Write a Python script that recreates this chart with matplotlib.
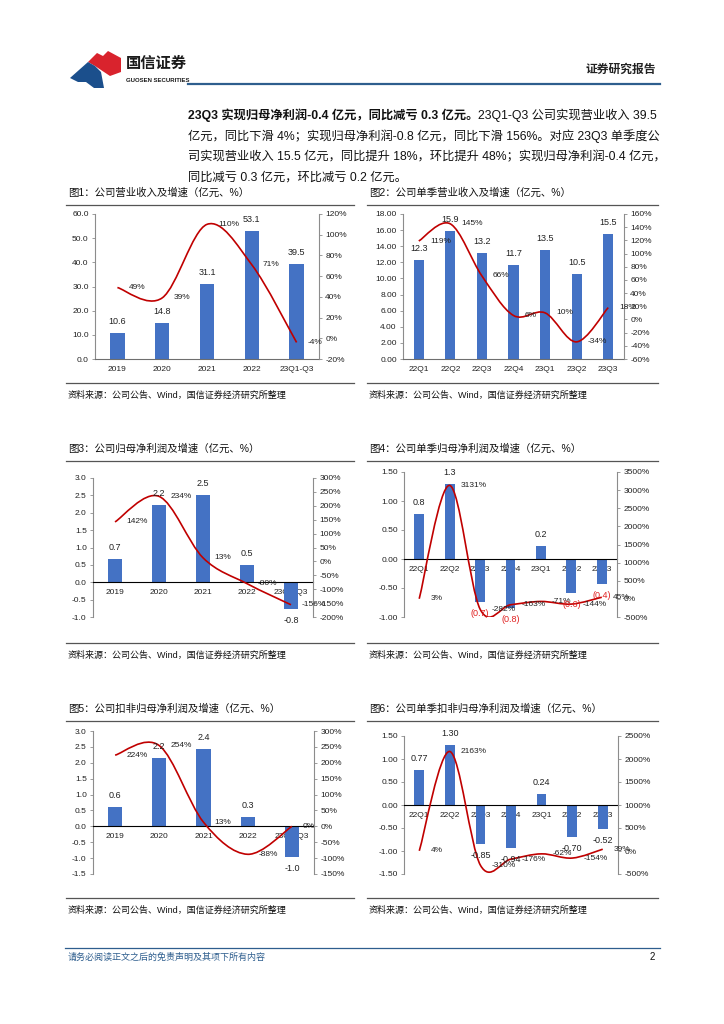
import numpy as np
import matplotlib
matplotlib.use('Agg')
import matplotlib.pyplot as plt
from matplotlib.path import Path
from matplotlib.patches import PathPatch, Polygon
from matplotlib.ticker import FuncFormatter

plt.rcParams['font.family'] = ['Liberation Sans', 'Noto Sans CJK SC', 'DejaVu Sans']
plt.rcParams['axes.unicode_minus'] = False

W, H = 724, 1024

# ---- data ----
years = ['2019', '2020', '2021', '2022', '23Q1-Q3']
quarters = ['22Q1', '22Q2', '22Q3', '22Q4', '23Q1', '23Q2', '23Q3']

rev_year = [10.6, 14.8, 31.1, 53.1, 39.5]
rev_year_g = [49, 39, 110, 71, -4]
rev_q = [12.3, 15.9, 13.2, 11.7, 13.5, 10.5, 15.5]
rev_q_g = [119, 145, 66, 6, 10, -34, 18]
np_year = [0.66, 2.23, 2.52, 0.51, -0.76]
np_year_g = [142, 234, 13, -80, -156]
np_q = [0.77, 1.30, -0.74, -0.85, 0.23, -0.58, -0.43]
np_q_g = [3, 3131, -282, -163, -71, -144, 45]
dnp_year = [0.61, 2.16, 2.44, 0.28, -0.98]
dnp_year_g = [224, 254, 13, -88, 0]
dnp_q = [0.77, 1.30, -0.85, -0.94, 0.24, -0.70, -0.52]
dnp_q_g = [4, 2163, -310, -176, -62, -154, 39]

titles = ['图1：公司营业收入及增速（亿元、%）', '图2：公司单季营业收入及增速（亿元、%）',
          '图3：公司归母净利润及增速（亿元、%）', '图4：公司单季归母净利润及增速（亿元、%）',
          '图5：公司扣非归母净利润及增速（亿元、%）', '图6：公司单季扣非归母净利润及增速（亿元、%）']
source = '资料来源：公司公告、Wind，国信证券经济研究所整理'

BLUE = '#4472C4'
RED = '#C00000'
GRAY = '#8c8c8c'


def px_rect(x0, y0, x1, y1):
    return [x0 / W, 1 - y1 / H, (x1 - x0) / W, (y1 - y0) / H]


def smooth_path(xs, ys):
    # excel style smoothed line (catmull-rom bezier through the points)
    pts = np.column_stack([xs, ys]).astype(float)
    n = len(pts)
    verts = [pts[0]]
    codes = [Path.MOVETO]
    for i in range(n - 1):
        p0 = pts[max(i - 1, 0)]
        p1 = pts[i]
        p2 = pts[i + 1]
        p3 = pts[min(i + 2, n - 1)]
        verts += [p1 + (p2 - p0) / 6, p2 - (p3 - p1) / 6, p2]
        codes += [Path.CURVE4] * 3
    return Path(verts, codes)


fig = plt.figure(figsize=(W / 100, H / 100), dpi=100)

# background layer in pixel coords
bg = fig.add_axes([0, 0, 1, 1])
bg.set_xlim(0, W)
bg.set_ylim(H, 0)
bg.axis('off')

# logo
bg.add_patch(Polygon([(88, 62), (97, 53), (103, 56), (108, 51), (121, 58), (121, 72),
                      (110, 76), (101, 70), (95, 66)], closed=True, color='#D9232D', lw=0))
bg.add_patch(Polygon([(70, 78), (88, 62), (95, 66), (101, 72), (104, 88), (94, 88),
                      (86, 82), (78, 82)], closed=True, color='#1B4F8C', lw=0))
bg.text(126, 64, '国信证券', fontsize=11, fontweight='bold', color='#1a1a1a', va='center')
bg.text(126, 80, 'GUOSEN SECURITIES', fontsize=4.3, fontweight='bold', color='#1a1a1a', va='center')
bg.text(656, 70, '证券研究报告', fontsize=8.5, fontweight='bold', color='#222222', va='center', ha='right')
bg.plot([188, 660], [84, 84], color='#2E5E8E', lw=1.6)

# paragraph
t1 = bg.text(188, 115, '23Q3 实现归母净利润-0.4 亿元，同比减亏 0.3 亿元。', fontsize=8.8,
             fontweight='bold', color='#111111', va='center')
bg.annotate('23Q1-Q3 公司实现营业收入 39.5', xy=(1, 0.5), xycoords=t1, fontsize=8.8,
            color='#111111', va='center')
lines = ['亿元，同比下滑 4%；实现归母净利润-0.8 亿元，同比下滑 156%。对应 23Q3 单季度公',
         '司实现营业收入 15.5 亿元，同比提升 18%，环比提升 48%；实现归母净利润-0.4 亿元，',
         '同比减亏 0.3 亿元，环比减亏 0.2 亿元。']
for i, s in enumerate(lines):
    bg.text(188, 136 + 21 * i, s, fontsize=8.8, color='#111111', va='center')

# titles, rules, sources
col_x = [(68, 354), (369, 658)]
title_y = [193, 449, 709]
src_y = [383, 643, 898]
for r in range(3):
    for c in range(2):
        x0, x1 = col_x[c]
        bg.text(x0, title_y[r], titles[r * 2 + c], fontsize=7.5, color='#111111', va='center')
        bg.plot([x0 - 2, x1], [title_y[r] + 12, title_y[r] + 12], color='#555555', lw=0.9)
        bg.plot([x0 - 2, x1], [src_y[r], src_y[r]], color='#555555', lw=0.9)
        bg.text(x0, src_y[r] + 12, source, fontsize=6.5, color='#111111', va='center')

# footer
bg.plot([65, 660], [948, 948], color='#2E5E8E', lw=0.9)
bg.text(68, 957, '请务必阅读正文之后的免责声明及其项下所有内容', fontsize=6.5, color='#2E5E8E',
        va='center', style='italic')
bg.text(655, 957, '2', fontsize=7, color='#111111', va='center', ha='right')


def chart(rect, cats, vals, growth, ylim, ystep, yfmt, y2lim, y2step, labfmt,
          zero_line=False, red_neg=False):
    ax = fig.add_axes(px_rect(*rect))
    ax2 = ax.twinx()
    ax.patch.set_alpha(0)
    x = np.arange(len(cats))
    ax.bar(x, vals, width=0.32, color=BLUE, zorder=2)
    ax.set_xlim(-0.5, len(cats) - 0.5)
    ax.set_ylim(*ylim)
    ax.set_yticks(np.arange(ylim[0], ylim[1] + ystep / 2, ystep))
    ax.yaxis.set_major_formatter(FuncFormatter(lambda v, p: yfmt.format(v)))
    ax2.set_ylim(*y2lim)
    ax2.set_yticks(np.arange(y2lim[0], y2lim[1] + y2step / 2, y2step))
    ax2.yaxis.set_major_formatter(FuncFormatter(lambda v, p: f'{v:.0f}%'))
    ax.set_xticks(x, cats)

    ax.spines['top'].set_visible(False)
    ax.spines['right'].set_visible(False)
    ax.spines['left'].set_color(GRAY)
    for s in ['top', 'left', 'bottom']:
        ax2.spines[s].set_visible(False)
    ax2.spines['right'].set_color(GRAY)
    if zero_line:
        ax.spines['bottom'].set_position(('data', 0))
        ax.spines['bottom'].set_color('black')
    else:
        ax.spines['bottom'].set_color('#6e6e6e')

    ax.tick_params(axis='x', length=0, pad=5, labelsize=6, labelcolor='#222222')
    ax.tick_params(axis='y', length=2.5, width=0.6, color=GRAY, labelsize=6, pad=2,
                   labelcolor='#222222')
    ax2.tick_params(axis='y', length=2.5, width=0.6, color=GRAY, labelsize=6, pad=2,
                    labelcolor='#222222')

    ax2.add_patch(PathPatch(smooth_path(x, growth), fill=False, edgecolor=RED, lw=1.2,
                            zorder=3))
    for xi, g in zip(x, growth):
        ax2.annotate(f'{g}%', (xi, g), xytext=(8, 0), textcoords='offset points',
                     ha='left', va='center', fontsize=6, color='#222222')
    for xi, v in zip(x, vals):
        if v >= 0:
            ax2.annotate(labfmt.format(v), (xi, v), xycoords=('data', ax.transData)
                         if False else ax.transData, xytext=(0, 5), textcoords='offset points',
                         ha='center', va='bottom', fontsize=6.5, color='#222222')
        else:
            txt = labfmt.format(v)
            col = '#222222'
            if red_neg:
                txt = '(' + labfmt.format(-v) + ')'
                col = '#E02020'
            ax2.annotate(txt, (xi, v), xycoords=ax.transData, xytext=(0, -5),
                         textcoords='offset points', ha='center', va='top', fontsize=6.5,
                         color=col)
    return ax, ax2


chart((95, 214, 319, 359), years, rev_year, rev_year_g, (0, 60), 10, '{:.1f}',
      (-20, 120), 20, '{:.1f}')
chart((403, 214, 624, 359), quarters, rev_q, rev_q_g, (0, 18), 2, '{:.2f}',
      (-60, 160), 20, '{:.1f}')
chart((93, 478, 313, 617), years, np_year, np_year_g, (-1, 3), 0.5, '{:.1f}',
      (-200, 300), 50, '{:.1f}', zero_line=True)
chart((404, 472, 617, 617), quarters, np_q, np_q_g, (-1, 1.5), 0.5, '{:.2f}',
      (-500, 3500), 500, '{:.1f}', zero_line=True, red_neg=True)
chart((93, 731, 314, 874), years, dnp_year, dnp_year_g, (-1.5, 3), 0.5, '{:.1f}',
      (-150, 300), 50, '{:.1f}', zero_line=True)
chart((404, 736, 618, 874), quarters, dnp_q, dnp_q_g, (-1.5, 1.5), 0.5, '{:.2f}',
      (-500, 2500), 500, '{:.2f}', zero_line=True)

fig.savefig('out.png', dpi=100)
